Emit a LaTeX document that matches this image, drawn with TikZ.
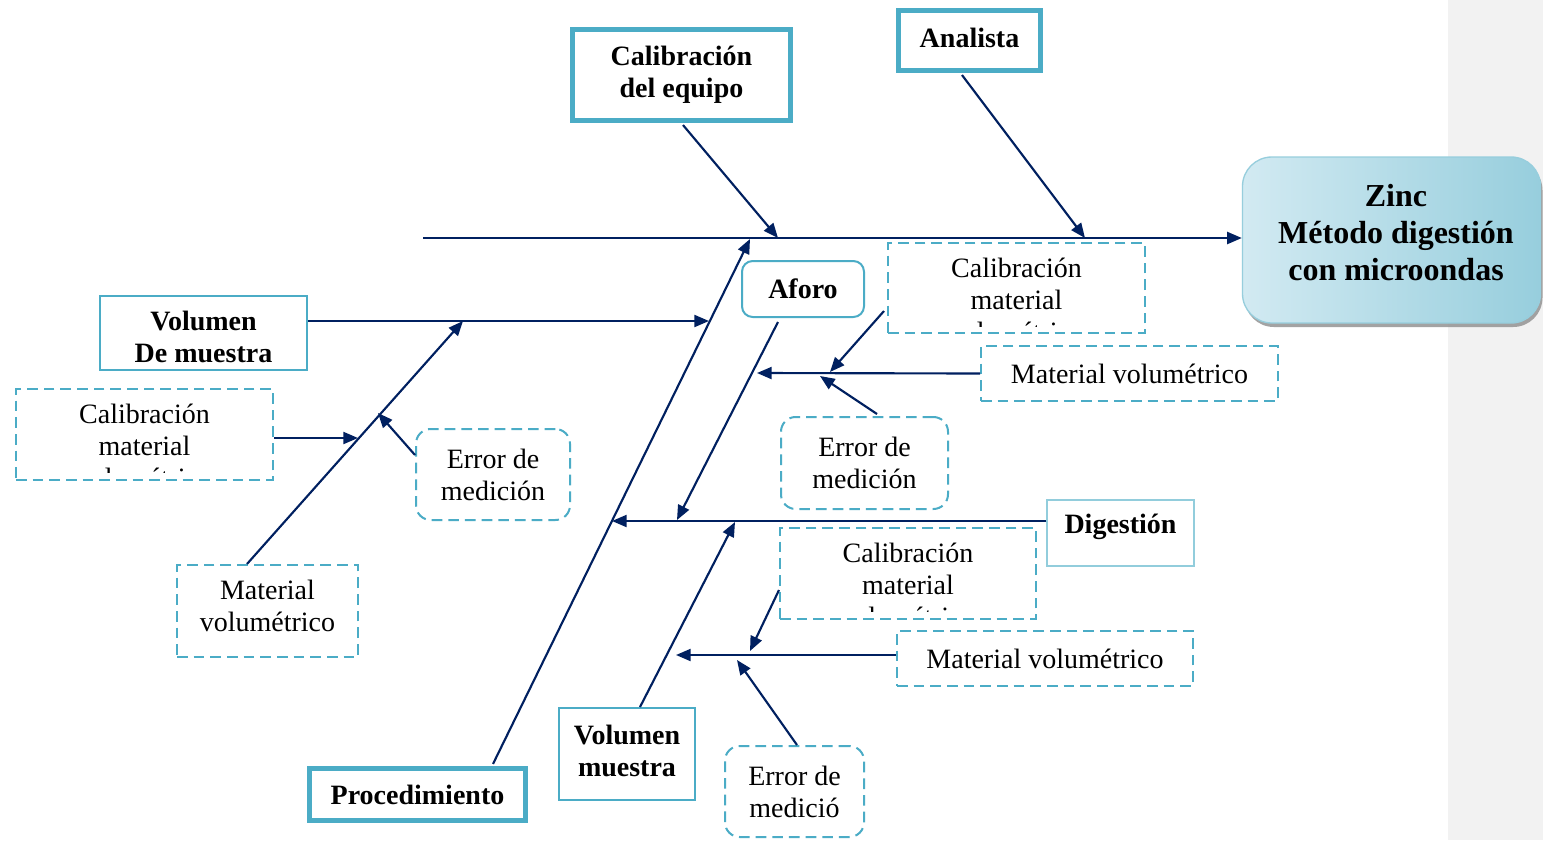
\documentclass[tikz,border=0pt]{standalone}
\usepackage{fontspec}
\setmainfont{Liberation Serif}
\usetikzlibrary{arrows.meta,calc,shadows}

\definecolor{navy}{RGB}{0,32,96}
\definecolor{accent}{HTML}{4BACC6}
\definecolor{paleaccent}{HTML}{92CDDC}
\definecolor{stripgray}{HTML}{F2F2F2}
\definecolor{zincleft}{HTML}{D2EAF2}
\definecolor{zinclight}{HTML}{E0F0F5}
\definecolor{zincdark}{HTML}{97CEDD}

\tikzset{
  x=0.75pt, y=-0.75pt,
  lbl/.style={font=\fontsize{21}{24}\selectfont, align=center, inner sep=0pt},
  lblbold/.style={lbl, font=\fontsize{21}{24}\selectfont\bfseries},
  boxsize/.style 2 args={minimum width=#1*0.75pt, minimum height=#2*0.75pt},
  thickbox/.style={rectangle, draw=accent, line width=3.8pt, fill=white, lblbold},
  thinbox/.style={rectangle, draw=accent, line width=1.5pt, fill=white, lblbold},
  dbox/.style={rectangle, draw=accent, line width=1.5pt, dash pattern=on 8pt off 4.5pt, fill=white, lbl},
  rdbox/.style={dbox, rounded corners=11pt},
  zincbox/.style={rectangle, rounded corners=22pt, draw=zincdark, line width=1pt,
    left color=zincleft, middle color=zinclight, right color=zincdark,
    drop shadow={shadow xshift=1.5pt, shadow yshift=-3pt, fill=black!40, opacity=0.9}},
  zinctext/.style={align=center, inner sep=0pt, font=\fontsize{24}{28}\selectfont\bfseries},
  conn/.style={draw=navy, line width=1.6pt},
  arr/.style={conn, -{Triangle[length=11pt,width=9pt]}},
}

\begin{document}
\begin{tikzpicture}
% page and side strip
\useasboundingbox (0,0) rectangle (1543,840);
\fill[white] (0,0) rectangle (1543,840);
\fill[stripgray] (1448,0) rectangle (1543,840);

% effect box
\node[zincbox, boxsize={298}{166}] (zinc) at (1391.5,240) {};
\node[zinctext] (zinclbl) at (1396,232.5) {Zinc\\Método digestión\\con microondas};

% main categories
\node[thickbox, boxsize={218}{91}] (calq) at (681.5,75) {Calibración\\del equipo};
\node[thickbox, boxsize={142}{60}, text depth=4.5pt] (anal) at (969.5,40.5) {Analista};
\node[thickbox, boxsize={216}{52}] (proc) at (417.5,794.5) {Procedimiento};
\node[thinbox, boxsize={207}{74}] (volm) at (203.5,333) {};
\node[lblbold] (volmt) at (203.5,337) {Volumen\\De muestra};
\node[thinbox, rounded corners=8pt, boxsize={122}{56}] (aforo) at (803,289) {Aforo};
\node[thinbox, boxsize={136}{92}] (volm2) at (627,754) {};
\node[lblbold] (volm2t) at (627,750.5) {Volumen\\muestra};
\node[thinbox, draw=paleaccent, line width=1pt, boxsize={147}{66}, text depth=13.5pt] (dig) at (1120.5,533) {Digestión};

% sub-causes
\node[dbox, boxsize={257}{91}] (calL) at (144.5,434.5) {};
\node[rdbox, boxsize={154}{91}] (errL) at (493,474.5) {Error de\\medición};
\node[dbox, boxsize={181}{92}] (matL) at (267.5,611) {};
\node[lbl] (matLt) at (267.5,606) {Material\\volumétrico};
\node[dbox, boxsize={257}{90}] (calR) at (1016.5,288) {};
\node[dbox, boxsize={297}{55}] (matR) at (1129.5,373.5) {Material volumétrico};
\node[rdbox, boxsize={167}{92}] (errR) at (864.5,463) {Error de\\medición};
\node[dbox, boxsize={256}{91}] (calB) at (908,573.5) {};
\node[dbox, boxsize={296}{55}] (matB) at (1045,658.5) {Material volumétrico};
\node[rdbox, boxsize={139}{91}] (errB) at (794.5,791.5) {Error de\\medició};

% text of the calibration boxes, cut off at the box bottom
\begin{scope}
  \clip ($(calL.north west)+(3,3)$) rectangle ($(calL.south east)+(-3,-8.5)$);
  \node[lbl] (calLt) at (144.5,446) {Calibración\\material\\volumétrico};
\end{scope}
\begin{scope}
  \clip ($(calR.north west)+(3,3)$) rectangle ($(calR.south east)+(-3,-7.5)$);
  \node[lbl] (calRt) at (1016.5,300) {Calibración\\material\\volumétrico};
\end{scope}
\begin{scope}
  \clip ($(calB.north west)+(3,3)$) rectangle ($(calB.south east)+(-3,-8.5)$);
  \node[lbl] (calBt) at (908,585) {Calibración\\material\\volumétrico};
\end{scope}

% points where the branches meet
\coordinate (spineL) at (423,238);
\coordinate (t1) at (778,238);
\coordinate (t2) at (1085,238);
\coordinate (t3) at (750,239);
\coordinate (t4) at (709,321);
\coordinate (t5) at (463,321);
\coordinate (t6) at (358,438);
\coordinate (t7) at (378,413);
\coordinate (t8) at (612,521);
\coordinate (t9) at (677,520);
\coordinate (t10) at (830,372);
\coordinate (t11) at (757,373);
\coordinate (t12) at (820,376);
\coordinate (t13) at (735,522);
\coordinate (t14) at (750,651);
\coordinate (t15) at (676,655);
\coordinate (t16) at (737,660);

% spine and branches
\draw[arr] (spineL) -- (spineL -| zinc.west);
\draw[arr] ($(calq.south)+(1.5,2)$) -- (t1);
\draw[arr] ($(anal.south)+(-7.5,2)$) -- (t2);
\draw[arr] ($(proc.north)+(75.5,-2)$) -- (t3);
\draw[arr] ($(volm.east)+(0,-12)$) -- (t4);
\draw[arr] ($(matL.north)+(-20.5,0)$) -- (t5);
\draw[arr] ($(calL.east)+(0,3.5)$) -- (t6);
\draw[arr] ($(errL.west)+(0,-19.5)$) -- (t7);
\draw[arr] ($(dig.west)+(0,-12)$) -- (t8);
\draw[arr] ($(aforo.south)+(-25,4)$) -- (t9);
\draw[arr] ($(calR.west)+(-3,23)$) -- (t10);
\draw[arr] (matR.west) -- (t11);
\draw[arr] ($(errR.north)+(12.5,-2)$) -- (t12);
\draw[arr] ($(volm2.north)+(13,0)$) -- (t13);
\draw[arr] ($(calB.west)+(0,16.5)$) -- (t14);
\draw[arr] ($(matB.west)+(0,-3.5)$) -- (t15);
\draw[arr] ($(errB.north)+(2.5,0)$) -- (t16);
\end{tikzpicture}
\end{document}
